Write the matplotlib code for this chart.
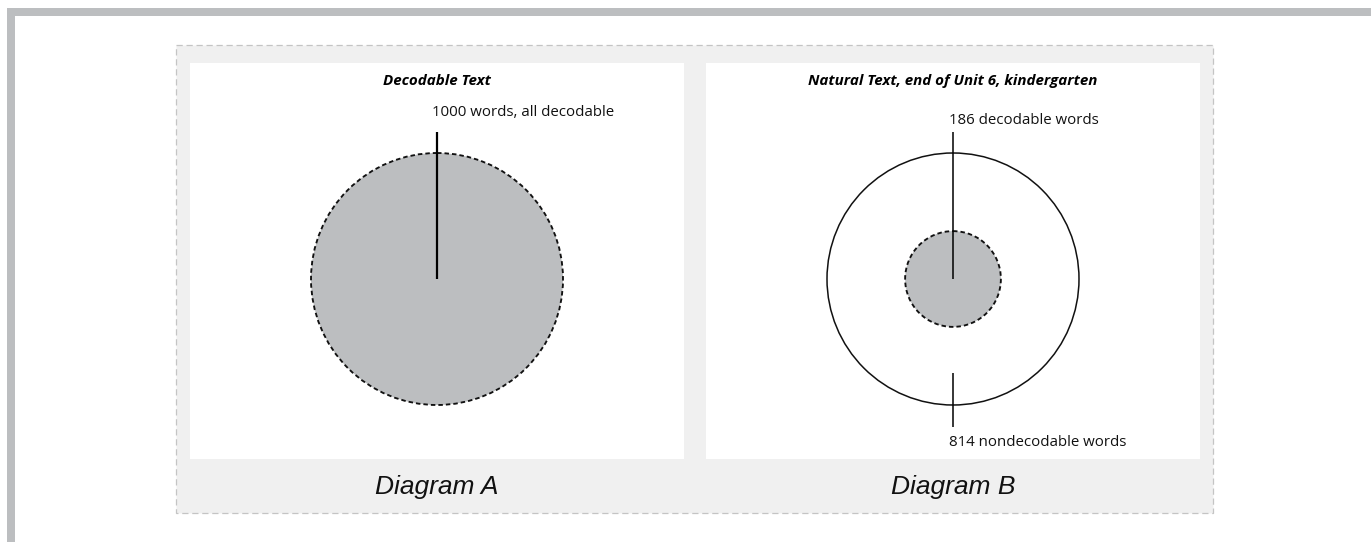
import matplotlib
matplotlib.use("Agg")
import matplotlib.pyplot as plt
from matplotlib.patches import Rectangle, Circle

# ---- data ----
diagram_labels = ["Diagram A", "Diagram B"]
panel_titles = ["Decodable Text", "Natural Text, end of Unit 6, kindergarten"]
total_words = [1000, 1000]
decodable_words = [1000, 186]
nondecodable_words = [0, 814]
top_labels = ["1000 words, all decodable", "186 decodable words"]
bottom_labels = [None, "814 nondecodable words"]

W, H = 1371, 542
fig = plt.figure(figsize=(W / 100, H / 100), dpi=100)
ax = fig.add_axes([0, 0, 1, 1])
ax.set_xlim(0, W)
ax.set_ylim(H, 0)
ax.axis("off")

GRAY = "#bcbec0"
BG = "#f0f0f0"
BODY = "Open Sans"
CAP = "Liberation Sans"

# page frame bars
ax.add_patch(Rectangle((7, 8), W - 7, 8, facecolor=GRAY, edgecolor="none"))
ax.add_patch(Rectangle((7, 8), 8, H - 8, facecolor=GRAY, edgecolor="none"))

# dashed container
ax.add_patch(Rectangle((176, 45), 1213 - 176, 513 - 45, facecolor=BG,
                       edgecolor="#c4c4c4", linewidth=0.9,
                       linestyle=(0, (5, 3))))

panel_x = [190, 706]
panel_w = 494
panel_top, panel_bot = 63, 459
R = 126
cy = 279
INNER_FRAC = 0.38
DASH = (0, (2.4, 1.6))

for i in range(2):
    x0 = panel_x[i]
    cx = x0 + panel_w / 2
    ax.add_patch(Rectangle((x0, panel_top), panel_w, panel_bot - panel_top,
                           facecolor="white", edgecolor="none"))
    # title
    ax.text(cx, 81, panel_titles[i], ha="center", va="center",
            fontsize=10.9, fontweight="bold", fontstyle="italic",
            family=BODY, color="#000000")
    # diagram caption
    ax.text(cx, 487, diagram_labels[i], ha="center",
            va="center", fontsize=19, fontstyle="italic", family=CAP,
            color="#111111")

    frac = decodable_words[i] / total_words[i]
    if frac >= 1:
        ax.add_patch(Circle((cx, cy), R, facecolor=GRAY, edgecolor="#111111",
                            linewidth=1.35, linestyle=DASH))
        ax.plot([cx, cx], [132, cy], color="black", linewidth=1.6,
                solid_capstyle="butt")
        ax.text(cx - 5, 113, top_labels[i], ha="left", va="center",
                fontsize=10.8, family=BODY, color="#111111")
    else:
        ax.add_patch(Circle((cx, cy), R, facecolor="white", edgecolor="#111111",
                            linewidth=1.1))
        ax.add_patch(Circle((cx, cy), R * INNER_FRAC, facecolor=GRAY,
                            edgecolor="#111111", linewidth=1.35,
                            linestyle=DASH))
        ax.plot([cx, cx], [132, cy], color="black", linewidth=1.1,
                solid_capstyle="butt")
        ax.text(cx - 4, 121, top_labels[i], ha="left", va="center",
                fontsize=10.8, family=BODY, color="#111111")
        ax.plot([cx, cx], [373, 427], color="black", linewidth=1.1,
                solid_capstyle="butt")
        ax.text(cx - 4, 442, bottom_labels[i], ha="left", va="center",
                fontsize=10.8, family=BODY, color="#111111")

fig.savefig("out.png", dpi=100)
